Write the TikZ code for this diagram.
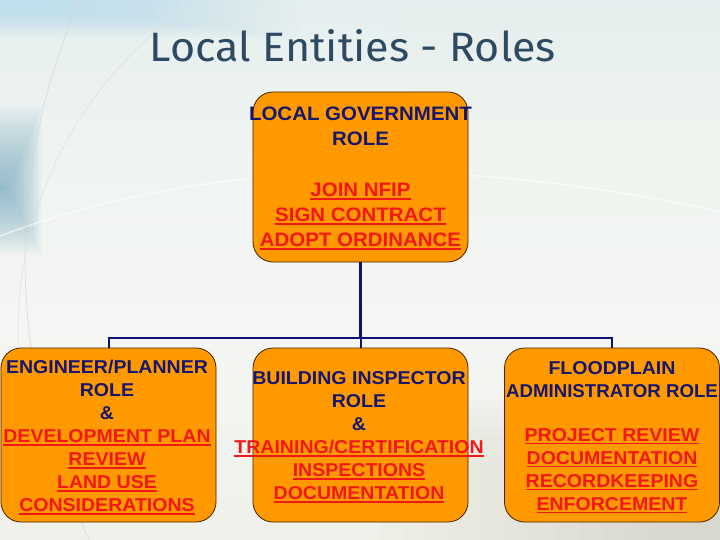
\documentclass[tikz,border=0pt]{standalone}
\usepackage{fontspec}
\setmainfont{Liberation Sans}
\newfontfamily\boxfont[FakeStretch=1.05]{Liberation Sans}
\newfontfamily\titlefont[FakeStretch=1.05]{Fira Sans}
\definecolor{orangefill}{HTML}{FF9900}
\definecolor{boxedge}{HTML}{4A2200}
\definecolor{navy}{HTML}{16166E}
\definecolor{itemred}{HTML}{F21818}
\definecolor{connblue}{HTML}{10107A}
\definecolor{titleblue}{HTML}{2D4A63}
\definecolor{leftblue}{HTML}{6FA8C0}
\definecolor{topwhite}{HTML}{F8FAEE}
\definecolor{bottomgrey}{HTML}{B8B8A6}
\definecolor{topcyan}{HTML}{A8E0EC}
\definecolor{bgA}{HTML}{E3E1D6}
\definecolor{bgB}{HTML}{EFEFE8}
\definecolor{bgC}{HTML}{F4F6F3}
\definecolor{bgD}{HTML}{EEF3F1}
\definecolor{bgE}{HTML}{E0ECEE}
\definecolor{bgF}{HTML}{D0E3E8}
\pgfdeclareverticalshading{bgshade}{100bp}{color(0bp)=(bgA); color(20.4bp)=(bgB); color(44.4bp)=(bgC); color(63bp)=(bgD); color(81.5bp)=(bgE); color(100bp)=(bgF)}
\newcommand\uln[1]{\setbox0=\hbox{#1}\leavevmode\rlap{\rule[-3.2bp]{\wd0}{1.7bp}}\box0}
\newcommand\rd[1]{\textcolor{itemred}{\uln{#1}}}
\newcommand\nv[1]{\textcolor{navy}{#1}}
\tikzset{
  rolebox/.style={draw=boxedge, line width=0.8bp, fill=orangefill, rounded corners=20bp, inner sep=0pt},
  roletext/.style={align=center, inner sep=0pt, font=\boxfont\bfseries\fontsize{18.6bp}{23bp}\selectfont},
  toptext/.style={align=center, inner sep=0pt, font=\boxfont\bfseries\fontsize{19.5bp}{25bp}\selectfont},
  connector/.style={draw=connblue, line width=2bp},
  trunk/.style={draw=connblue, line width=2.4bp},
  titlestyle/.style={inner sep=0pt, text=titleblue, font=\titlefont\fontsize{41bp}{43bp}\selectfont}
}
\begin{document}
\begin{tikzpicture}[x=1bp,y=-1bp]
\useasboundingbox (0,0) rectangle (720,540);
% background
\shade[shading=bgshade] (0,0) rectangle (720,540);
\foreach \i in {0,...,19} \fill[topwhite, opacity=0.045] ({390+16*\i},0) rectangle (720,{215-2*\i});
\foreach \i in {0,...,11} \fill[bottomgrey, opacity=0.035] ({380+25*\i},{400+9*\i}) rectangle (720,540);
\foreach \i in {0,...,24} \fill[topcyan, opacity=0.03] (0,0) rectangle ({300-11*\i},{38-1.3*\i});
\foreach \i in {0,...,29} \fill[leftblue, opacity=0.035] (0,{105+3.2*\i}) rectangle ({42-1.35*\i},{255-2.6*\i});
\draw[white, line width=1.5bp, opacity=0.6] (0,236) .. controls (200,160) and (450,152) .. (720,212);
\draw[gray!35, line width=0.7bp, opacity=0.7] plot[domain=-25:27, samples=50] ({667-642*cos(\x)},{260+642*sin(\x)});
\draw[gray!30, line width=0.7bp, opacity=0.6] plot[domain=-58:8, samples=50] ({410-392*cos(\x)},{330+392*sin(\x)});
% title
\node[titlestyle, anchor=base] (title) at (353,62) {Local Entities - Roles};
% boxes
\node[rolebox, minimum width=215bp, minimum height=170bp] (gov) at (360.5,177) {};
\node[rolebox, minimum width=215bp, minimum height=174bp] (eng) at (108.5,435) {};
\node[rolebox, minimum width=215bp, minimum height=174bp] (bld) at (360.5,435) {};
\node[rolebox, minimum width=215bp, minimum height=174bp] (fpa) at (612,435) {};
% connectors
\coordinate (bus) at (360.5,338);
\draw[trunk] (gov.south) -- (bus);
\draw[connector] (bus) -- (bld.north);
\draw[connector] (eng.north) -- (eng.north |- bus) -- (fpa.north |- bus) -- (fpa.north);
% texts
\node[toptext] (govtxt) at (360.5,178.5) {\nv{LOCAL GOVERNMENT}\\\nv{ROLE}\\[26bp]\rd{JOIN NFIP}\\\rd{SIGN CONTRACT}\\\rd{ADOPT ORDINANCE}};
\node[roletext] (engtxt) at (107,437.4) {\nv{ENGINEER/PLANNER}\\\nv{ROLE}\\\nv{\&}\\\rd{DEVELOPMENT PLAN}\\\rd{REVIEW}\\\rd{LAND USE}\\\rd{CONSIDERATIONS}};
\node[roletext] (bldtxt) at (359,437.4) {\nv{BUILDING INSPECTOR}\\\nv{ROLE}\\\nv{\&}\\\rd{TRAINING/CERTIFICATION}\\\rd{INSPECTIONS}\\\rd{DOCUMENTATION}};
\node[roletext] (fpatxt) at (612,437.4) {\nv{FLOODPLAIN}\\\nv{\scalebox{0.955}[1]{ADMINISTRATOR ROLE}}\\[21bp]\rd{PROJECT REVIEW}\\\rd{DOCUMENTATION}\\\rd{RECORDKEEPING}\\\rd{ENFORCEMENT}};
\end{tikzpicture}
\end{document}
